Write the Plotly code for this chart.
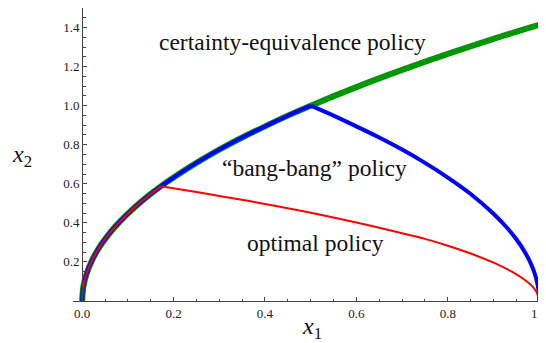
import plotly.graph_objects as go

# Shared rising boundary
curve_x = [0, 0.002, 0.005, 0.01, 0.02, 0.03, 0.04, 0.05, 0.065, 0.08, 0.1, 0.125, 0.15, 0.172,
           0.2, 0.25, 0.3, 0.35, 0.4, 0.45, 0.5, 0.6, 0.7, 0.8, 0.9, 1.0]
curve_y = [0, 0.063, 0.10, 0.141, 0.20, 0.245, 0.283, 0.316, 0.361, 0.40, 0.447, 0.50, 0.548, 0.587,
           0.632, 0.707, 0.775, 0.837, 0.894, 0.949, 1.0, 1.095, 1.183, 1.265, 1.342, 1.414]

# Bang-bang falling branch
blue_fall_x = [0.5, 0.55, 0.6, 0.65, 0.7, 0.75, 0.8, 0.85, 0.9, 0.93, 0.95, 0.97, 0.98, 0.99, 0.997, 1.0]
blue_fall_y = [1.0, 0.949, 0.894, 0.837, 0.775, 0.707, 0.632, 0.548, 0.447, 0.374, 0.316, 0.245, 0.20, 0.141, 0.077, 0]

# Optimal policy falling branch
red_fall_x = [0.172, 0.25, 0.3, 0.4, 0.5, 0.6, 0.7, 0.75, 0.8, 0.85, 0.9, 0.94, 0.97, 0.985, 0.995, 1.0]
red_fall_y = [0.587, 0.558, 0.538, 0.497, 0.452, 0.402, 0.347, 0.318, 0.283, 0.243, 0.196, 0.150, 0.105, 0.075, 0.042, 0]

blue_break = 0.5
red_break = 0.172

x_ticks = [0, 0.2, 0.4, 0.6, 0.8, 1.0]
x_tick_labels = ["0.0", "0.2", "0.4", "0.6", "0.8", "1.0"]
y_ticks = [0.2, 0.4, 0.6, 0.8, 1.0, 1.2, 1.4]
y_tick_labels = ["0.2", "0.4", "0.6", "0.8", "1.0", "1.2", "1.4"]

labels = ["certainty-equivalence policy", "\u201cbang-bang\u201d policy", "optimal policy"]
label_x = [0.461, 0.509, 0.51]
label_y = [1.325, 0.682, 0.299]

blue_rise_x = [x for x in curve_x if x <= blue_break]
blue_rise_y = [y for x, y in zip(curve_x, curve_y) if x <= blue_break]
red_rise_x = [x for x in curve_x if x <= red_break]
red_rise_y = [y for x, y in zip(curve_x, curve_y) if x <= red_break]

fig = go.Figure()

def add_line(xs, ys, color, width):
    fig.add_trace(go.Scatter(x=xs, y=ys, mode="lines", line_shape="spline",
                             line=dict(color=color, width=width, smoothing=1.0),
                             showlegend=False, hoverinfo="skip"))

add_line(curve_x, curve_y, "#009600", 6)
add_line(blue_rise_x, blue_rise_y, "#0000FF", 4)
add_line(blue_fall_x, blue_fall_y, "#0000FF", 4)
add_line(red_rise_x, red_rise_y, "#FF0000", 2)
add_line(red_fall_x, red_fall_y, "#FF0000", 2)

serif = "Liberation Serif, DejaVu Serif, Noto Serif, Times New Roman, Times, serif"
axis_col = "#444444"

# page is offset by the 8px body margin, so margins are compensated
x_min, x_max = -0.02, 1.017
y_min, y_max = 0, 1.5
fig.update_layout(
    width=546, height=343,
    margin=dict(l=65, r=7, t=0, b=50, autoexpand=False),
    paper_bgcolor="white", plot_bgcolor="white",
    font=dict(family=serif, color="#222222"),
    xaxis=dict(range=[x_min, x_max], tickvals=x_ticks, ticktext=x_tick_labels,
               automargin=False,
               ticks="inside", ticklen=4, tickwidth=1, tickcolor=axis_col,
               showline=True, linecolor=axis_col, linewidth=1,
               showgrid=False, zeroline=False,
               tickfont=dict(family=serif, size=13, color="#222222"),
               minor=dict(dtick=0.05, tick0=0, ticks="inside", ticklen=2.5,
                          tickwidth=1, tickcolor=axis_col, showgrid=False)),
    yaxis=dict(range=[y_min, y_max], tickvals=y_ticks, ticktext=y_tick_labels,
               automargin=False,
               anchor="free", position=(0 - x_min) / (x_max - x_min),
               ticks="inside", ticklen=4, tickwidth=1, tickcolor=axis_col,
               showline=True, linecolor=axis_col, linewidth=1,
               showgrid=False, zeroline=False,
               tickfont=dict(family=serif, size=13, color="#222222"),
               minor=dict(dtick=0.05, tick0=0, ticks="inside", ticklen=2.5,
                          tickwidth=1, tickcolor=axis_col, showgrid=False)),
)

for t, lx, ly in zip(labels, label_x, label_y):
    fig.add_annotation(x=lx, y=ly, xref="x", yref="y", text=t, showarrow=False,
                       xanchor="center", yanchor="middle",
                       font=dict(family=serif, size=23.5, color="#111111"))

def to_paper_x(v):
    return (v - x_min) / (x_max - x_min)

def to_paper_y(v):
    return (v - y_min) / (y_max - y_min)

fig.add_annotation(x=to_paper_x(0.502), y=to_paper_y(-0.14), xref="paper", yref="paper",
                   text="<i>x</i><sub>1</sub>", showarrow=False,
                   xanchor="center", yanchor="middle",
                   font=dict(family=serif, size=24, color="#111111"))
fig.add_annotation(x=to_paper_x(-0.132), y=to_paper_y(0.74), xref="paper", yref="paper",
                   text="<i>x</i><sub>2</sub>", showarrow=False,
                   xanchor="center", yanchor="middle",
                   font=dict(family=serif, size=24, color="#111111"))

fig.write_html("out.html")
